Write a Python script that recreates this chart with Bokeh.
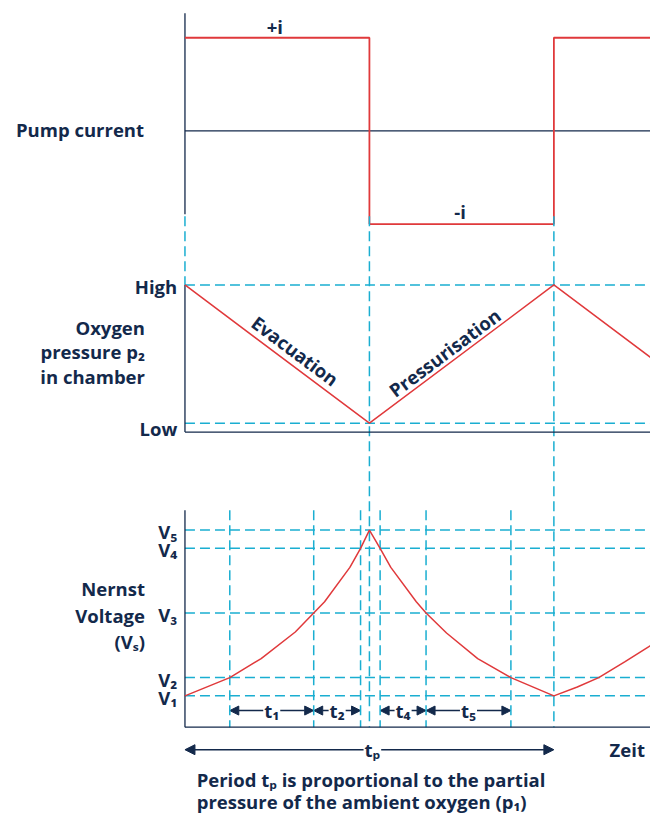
from bokeh.plotting import figure
from bokeh.models import Range1d, Arrow, NormalHead
from bokeh.core.properties import value
from bokeh.embed import file_html
from bokeh.resources import INLINE

# ---------------- data ----------------
# pump current (square wave), time in half-periods
current_t = [0, 1, 1, 2, 2, 2.6]
current_i = [1, 1, -1, -1, 1, 1]
current_labels = ["+i", "-i"]

# oxygen pressure in chamber (triangle wave)
pressure_t = [0, 1, 2, 3]
pressure_p = [1, 0, 1, 0]
pressure_levels = [1, 0]
pressure_level_labels = ["High", "Low"]

# Nernst voltage curve
nernst_t = [0, 0.243, 0.413, 0.598, 0.698, 0.757, 0.894, 0.952, 1.0,
            1.058, 1.116, 1.254, 1.307, 1.418, 1.587, 1.767, 2.0,
            2.127, 2.243, 2.386, 2.513, 2.6]
nernst_v = [0, 0.11, 0.225, 0.385, 0.50, 0.568, 0.775, 0.89, 1.0,
            0.89, 0.775, 0.568, 0.50, 0.379, 0.225, 0.11, 0,
            0.053, 0.11, 0.207, 0.296, 0.36]
v_levels = [0.0, 0.11, 0.50, 0.89, 1.0]
v_labels = ["V\u2081", "V\u2082", "V\u2083", "V\u2084", "V\u2085"]

# threshold crossing instants
cross_t = [0.243, 0.698, 0.952, 1.058, 1.307, 1.767]
interval_start = [0.243, 0.698, 1.058, 1.307]
interval_end = [0.698, 0.952, 1.307, 1.767]
interval_labels = ["t\u2081", "t\u2082", "t\u2084", "t\u2085"]
period = 2.0
period_label = "t\u209a"

# ---------------- style ----------------
NAVY = "#13294b"
CYAN = "#1aaed1"
RED = "#e0393b"
FONT = value("Open Sans")
FS = "18.5px"
DASH = "10 5"
T_END = 2.6

p = figure(width=650, height=815,
           x_range=Range1d(-1.0, 2.5238),
           y_range=Range1d(-0.7219, 4.195),
           output_backend="svg", toolbar_location=None,
           x_axis_type=None, y_axis_type=None,
           min_border=0, outline_line_color=None)
p.extra_y_ranges = {"cur": Range1d(-7.347, 1.4),
                    "prs": Range1d(-2.837, 3.057)}


def txt(x, y, s, align="center", baseline="middle", rng="default",
        angle=0.0, size=FS, bg=None):
    kw = {}
    if bg is not None:
        kw = dict(background_fill_color=bg, padding=1)
    p.text(x=[x], y=[y], text=[s], text_font=FONT, text_font_style="bold",
           text_font_size=size, text_color=NAVY, text_align=align,
           text_baseline=baseline, angle=angle, y_range_name=rng, **kw)


# ---------------- top panel: pump current ----------------
p.line([0, 0], [1.263, -0.895], y_range_name="cur", line_color=NAVY, line_width=1.3)
p.line([0, T_END], [0, 0], y_range_name="cur", line_color=NAVY, line_width=1.3)
p.line(current_t, current_i, y_range_name="cur", line_color=RED, line_width=1.8)
txt(0.487, 1.116, current_labels[0], rng="cur")
txt(1.492, -0.863, current_labels[1], rng="cur")
txt(-0.222, 0.02, "Pump current", align="right", rng="cur")

# connectors between panels
p.line([0, 0], [1.496, 1.0], y_range_name="prs", line_color=CYAN, line_width=1.5, line_dash=DASH)
for tt in [period / 2, period]:
    p.line([tt, tt], [1.496, -2.199], y_range_name="prs", line_color=CYAN,
           line_width=1.5, line_dash=DASH)

# ---------------- middle panel: pressure ----------------
for lv in pressure_levels:
    p.line([0, T_END], [lv, lv], y_range_name="prs", line_color=CYAN,
           line_width=1.5, line_dash=DASH)
p.line([0, 0], [1.0, -0.064], y_range_name="prs", line_color=NAVY, line_width=1.3)
p.line([0, T_END], [-0.064, -0.064], y_range_name="prs", line_color=NAVY, line_width=1.3)
p.line(pressure_t, pressure_p, y_range_name="prs", line_color=RED, line_width=1.5)
txt(-0.042, 1.0 - 0.012, pressure_level_labels[0], align="right", rng="prs")
txt(-0.042, 0.0 - 0.035, pressure_level_labels[1], align="right", rng="prs")
txt(-0.217, 0.695, "Oxygen", align="right", rng="prs")
txt(-0.217, 0.515, "pressure p\u2082", align="right", rng="prs")
txt(-0.217, 0.335, "in chamber", align="right", rng="prs")
txt(0.598, 0.525, "Evacuation", rng="prs", angle=-0.6405)
txt(1.407, 0.511, "Pressurisation", rng="prs", angle=0.6405)

# ---------------- bottom panel: Nernst voltage ----------------
for lv in v_levels:
    p.line([0, T_END], [lv, lv], line_color=CYAN, line_width=1.5, line_dash=DASH)
for tt in cross_t:
    p.line([tt, tt], [1.12, -0.189], line_color=CYAN, line_width=1.5, line_dash=DASH)
p.line([0, 0], [1.12, -0.189], line_color=NAVY, line_width=1.3)
p.line([0, T_END], [-0.189, -0.189], line_color=NAVY, line_width=1.3)
p.line(nernst_t, nernst_v, line_color=RED, line_width=1.5)
for lv, lab in zip(v_levels, v_labels):
    txt(-0.042, lv - 0.01, lab, align="right")
txt(-0.217, 0.645, "Nernst", align="right")
txt(-0.217, 0.485, "Voltage", align="right")
txt(-0.217, 0.325, "(V\u209b)", align="right")

# interval arrows
for s, e, lab in zip(interval_start, interval_end, interval_labels):
    p.add_layout(Arrow(x_start=s, y_start=-0.0888, x_end=e, y_end=-0.0888,
                       line_color=NAVY, line_width=1.5, level="underlay",
                       start=NormalHead(size=9, fill_color=NAVY, line_color=NAVY),
                       end=NormalHead(size=9, fill_color=NAVY, line_color=NAVY)))
    txt((s + e) / 2, -0.0888, lab, bg="white")

# period arrow
p.add_layout(Arrow(x_start=0, y_start=-0.325, x_end=period, y_end=-0.325,
                   line_color=NAVY, line_width=1.5, level="underlay",
                   start=NormalHead(size=10, fill_color=NAVY, line_color=NAVY),
                   end=NormalHead(size=10, fill_color=NAVY, line_color=NAVY)))
txt(period / 2 + 0.016, -0.325, period_label, bg="white")
txt(2.302, -0.325, "Zeit", align="left")

txt(0.0635, -0.505, "Period t\u209a  is proportional to the partial", align="left",
    baseline="alphabetic")
txt(0.0635, -0.635, "pressure of the ambient oxygen  (p\u2081)", align="left",
    baseline="alphabetic")

open("out.html", "w").write(file_html(p, INLINE))
